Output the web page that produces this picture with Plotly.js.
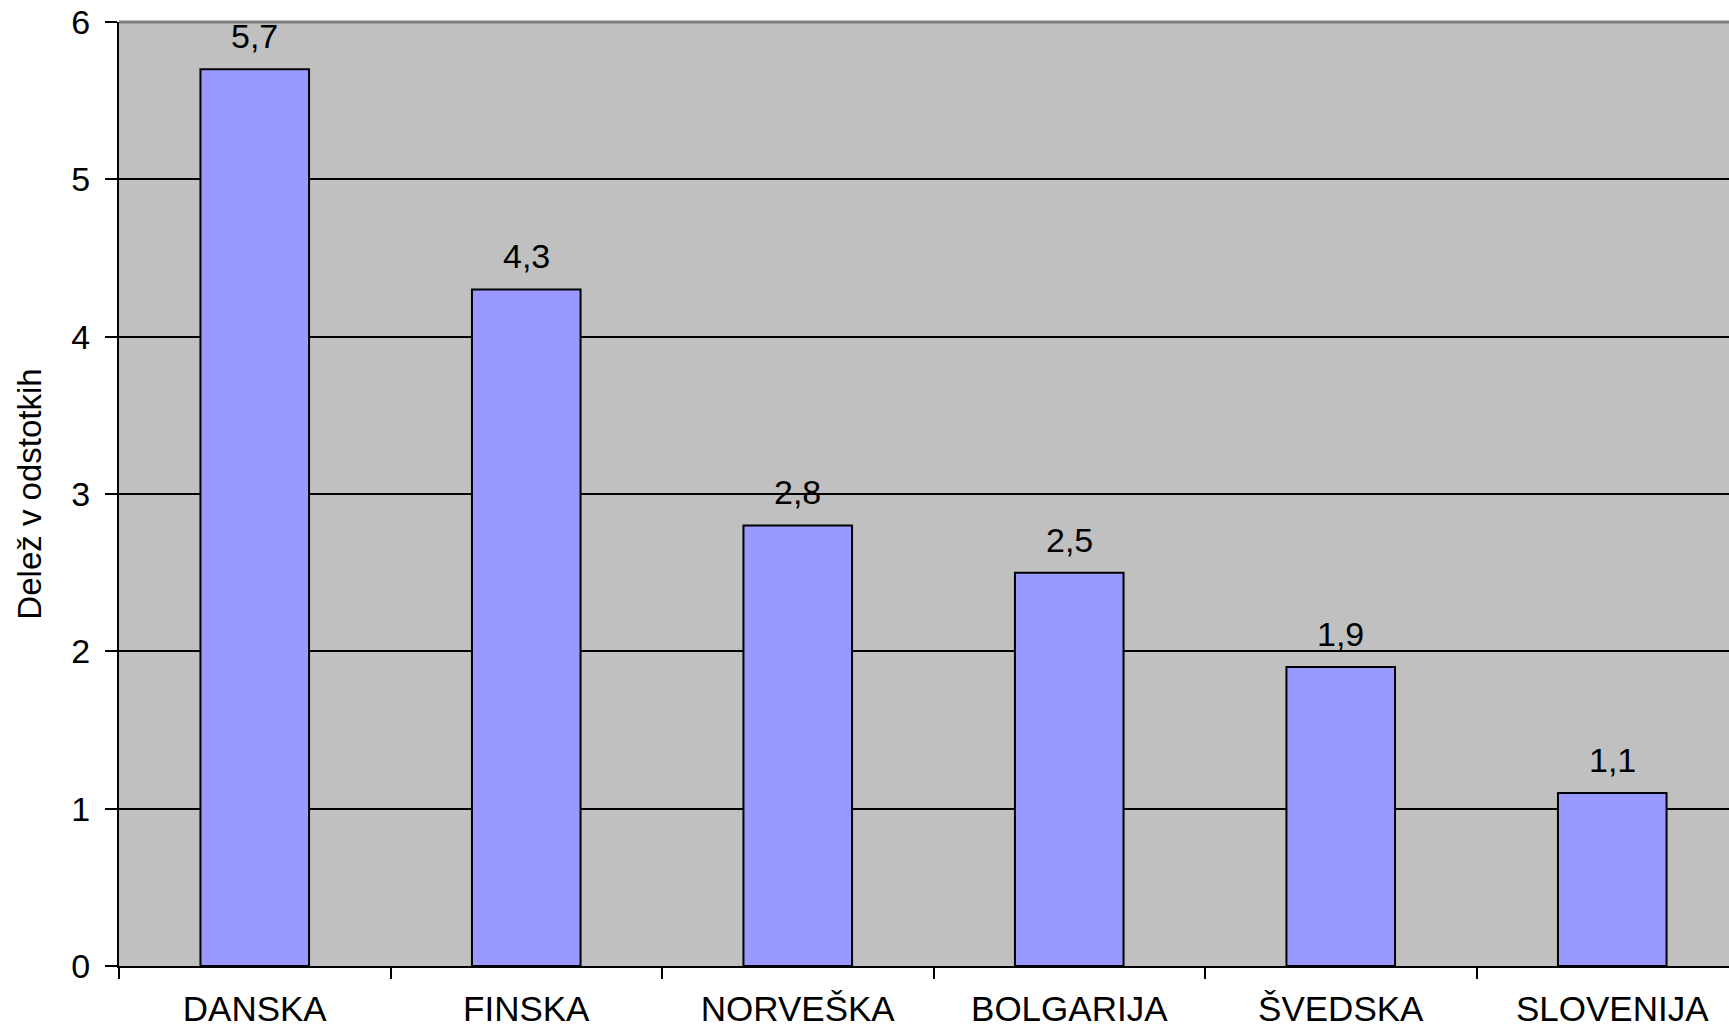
<!DOCTYPE html>
<html>
<head>
<meta charset="utf-8">
<script src="https://cdn.plot.ly/plotly-3.0.1.min.js"></script>
<style>html,body{margin:0;padding:0;background:#fff;}#chart{width:1729px;height:1030px;}</style>
</head>
<body>
<div id="chart"></div>
<script>
const categories = ["DANSKA", "FINSKA", "NORVEŠKA", "BOLGARIJA", "ŠVEDSKA", "SLOVENIJA"];
const values = [5.7, 4.3, 2.8, 2.5, 1.9, 1.1];
const valueLabels = ["5,7", "4,3", "2,8", "2,5", "1,9", "1,1"];
const yTicks = [0, 1, 2, 3, 4, 5, 6];
const yTitle = "Delež v odstotkih";

const FONT = "Liberation Sans, Arial, sans-serif";

const trace = {
  type: "bar",
  x: categories,
  y: values,
  width: 0.4,
  marker: {color: "#9999FF", line: {color: "#000000", width: 2}},
  hoverinfo: "skip"
};

const annotations = categories.map((c, i) => ({
  x: c, y: values[i], xref: "x", yref: "y",
  text: valueLabels[i], showarrow: false,
  yanchor: "bottom", yshift: 12,
  font: {family: FONT, size: 34, color: "#000"}
}));

const layout = {
  width: 1729, height: 1030,
  margin: {l: 119, r: 0, t: 22, b: 64},
  paper_bgcolor: "#ffffff",
  plot_bgcolor: "#C0C0C0",
  showlegend: false,
  font: {family: FONT, color: "#000"},
  xaxis: {
    type: "category",
    range: [-0.5, 5.43],
    tickson: "boundaries",
    ticks: "outside", ticklen: 11, tickwidth: 2, tickcolor: "#000",
    showline: true, linecolor: "#000", linewidth: 2,
    showgrid: false, zeroline: false,
    tickfont: {family: FONT, size: 35, color: "#000"},
    ticklabelstandoff: 11
  },
  yaxis: {
    range: [0, 6],
    tickmode: "array", tickvals: yTicks, ticktext: yTicks.map(String),
    ticks: "outside", ticklen: 12, tickwidth: 2, tickcolor: "#000",
    showline: true, linecolor: "#000", linewidth: 2,
    showgrid: true, gridcolor: "#000", gridwidth: 2,
    zeroline: false,
    tickfont: {family: FONT, size: 34, color: "#000"},
    ticklabelstandoff: 8,
    title: {text: yTitle, font: {family: FONT, size: 33, color: "#000"}, standoff: 20}
  },
  shapes: [{
    type: "line", xref: "paper", yref: "paper", x0: 0, x1: 1, y0: 1, y1: 1,
    line: {color: "#808080", width: 3}
  }],
  annotations: annotations
};

Plotly.newPlot("chart", [trace], layout, {displayModeBar: false, staticPlot: true});
</script>
</body>
</html>
